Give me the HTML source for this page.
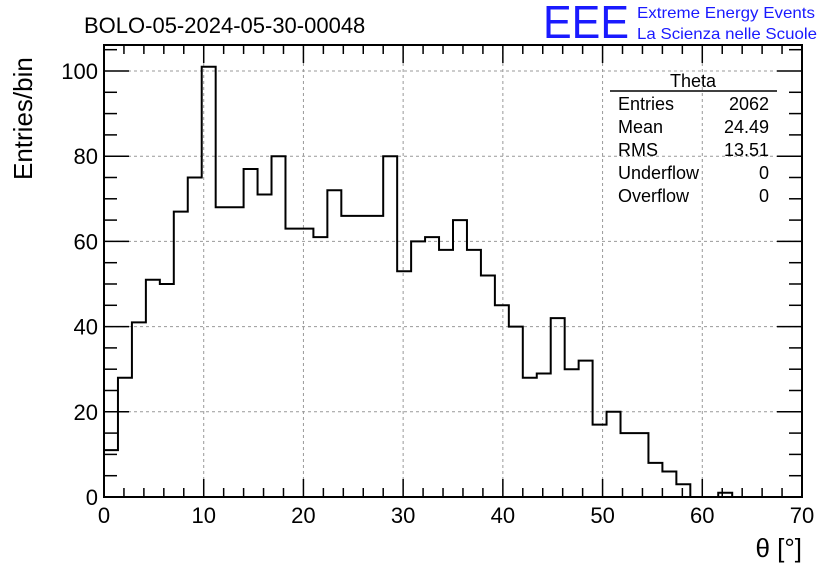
<!DOCTYPE html>
<html><head><meta charset="utf-8"><style>
body{margin:0;background:#fff;}
svg{display:block;font-family:"Liberation Sans",sans-serif;}
</style></head><body>
<svg id="c" width="836" height="572" xmlns="http://www.w3.org/2000/svg">
<text x="84" y="33" font-size="22">BOLO-05-2024-05-30-00048</text>
<text x="543" y="38" font-size="46" fill="#1a1aff" textLength="86" lengthAdjust="spacingAndGlyphs">EEE</text>
<text x="637" y="18" font-size="16" fill="#1a1aff" textLength="178" lengthAdjust="spacingAndGlyphs">Extreme Energy Events</text>
<text x="637" y="39" font-size="16" fill="#1a1aff" textLength="180" lengthAdjust="spacingAndGlyphs">La Scienza nelle Scuole</text>
<text transform="translate(32,180) rotate(-90)" font-size="26" text-anchor="start">Entries/bin</text>
<text x="802" y="557" font-size="26" text-anchor="end">θ [°]</text>
<g id="grid"></g><g id="hist"></g><g id="axes"></g>
<g font-size="18">
<text x="693" y="87" text-anchor="middle">Theta</text>
<line x1="610" y1="91" x2="777" y2="91" stroke="#000" stroke-width="1.5"/>
<text x="618" y="110">Entries</text><text x="769" y="110" text-anchor="end">2062</text>
<text x="618" y="133">Mean</text><text x="769" y="133" text-anchor="end">24.49</text>
<text x="618" y="156">RMS</text><text x="769" y="156" text-anchor="end">13.51</text>
<text x="618" y="179">Underflow</text><text x="769" y="179" text-anchor="end">0</text>
<text x="618" y="202">Overflow</text><text x="769" y="202" text-anchor="end">0</text>
</g>
</svg>
<script>
const counts=[11,28,41,51,50,67,75,101,68,68,77,71,80,63,63,61,72,66,66,66,80,53,60,61,58,65,58,52,45,40,28,29,42,30,32,17,20,15,15,8,6,3,0,0,1,0,0,0,0,0];
const xTicks=[0,10,20,30,40,50,60,70];
const yTicks=[0,20,40,60,80,100];
const xMin=0,xMax=70,yMin=0,yMax=106.1;
const L=104,R=802,T=45,B=497;
const X=v=>L+(v-xMin)/(xMax-xMin)*(R-L);
const Y=v=>B-(v-yMin)/(yMax-yMin)*(B-T);
const NS="http://www.w3.org/2000/svg";
function mk(p,t,a){const e=document.createElementNS(NS,t);for(const k in a)e.setAttribute(k,a[k]);p.appendChild(e);return e;}
const grid=document.getElementById('grid'),hist=document.getElementById('hist'),axes=document.getElementById('axes');
xTicks.slice(1,-1).forEach(v=>{const l=mk(grid,'line',{x1:X(v),x2:X(v),y1:T,y2:B,stroke:'#999','stroke-dasharray':'3,3'});

});
yTicks.slice(1).forEach(v=>{const l=mk(grid,'line',{x1:L,x2:R,y1:Y(v),y2:Y(v),stroke:'#999','stroke-dasharray':'3,3'});

});
const w=(xMax-xMin)/counts.length;
let d=`M${X(0)},${Y(0)}`;
counts.forEach((c,i)=>{d+=` L${X(i*w)},${Y(c)} L${X((i+1)*w)},${Y(c)}`;});
d+=` L${X(xMax)},${Y(0)}`;
const p=mk(hist,'path',{d:d,fill:'none',stroke:'#000','stroke-width':2});


const fr=mk(axes,'rect',{x:L,y:T,width:R-L,height:B-T,fill:'none',stroke:'#000','stroke-width':2});


for(let v=0;v<=70;v+=2){const big=v%10===0,len=big?18:9;
mk(axes,'line',{x1:X(v),x2:X(v),y1:B,y2:B-len,stroke:'#000','stroke-width':1.5});
mk(axes,'line',{x1:X(v),x2:X(v),y1:T,y2:T+len,stroke:'#000','stroke-width':1.5});}
for(let v=0;v<=yMax;v+=5){const big=v%20===0,len=big?25:13;
mk(axes,'line',{x1:L,x2:L+len,y1:Y(v),y2:Y(v),stroke:'#000','stroke-width':1.5});
mk(axes,'line',{x1:R,x2:R-len,y1:Y(v),y2:Y(v),stroke:'#000','stroke-width':1.5});}
xTicks.forEach(v=>{const t=mk(axes,'text',{x:X(v),y:B+26,'font-size':22,'text-anchor':'middle'});t.textContent=v;

});
yTicks.forEach(v=>{const t=mk(axes,'text',{x:L-6,y:Y(v)+8,'font-size':22,'text-anchor':'end'});t.textContent=v;

});
</script>
</body></html>
